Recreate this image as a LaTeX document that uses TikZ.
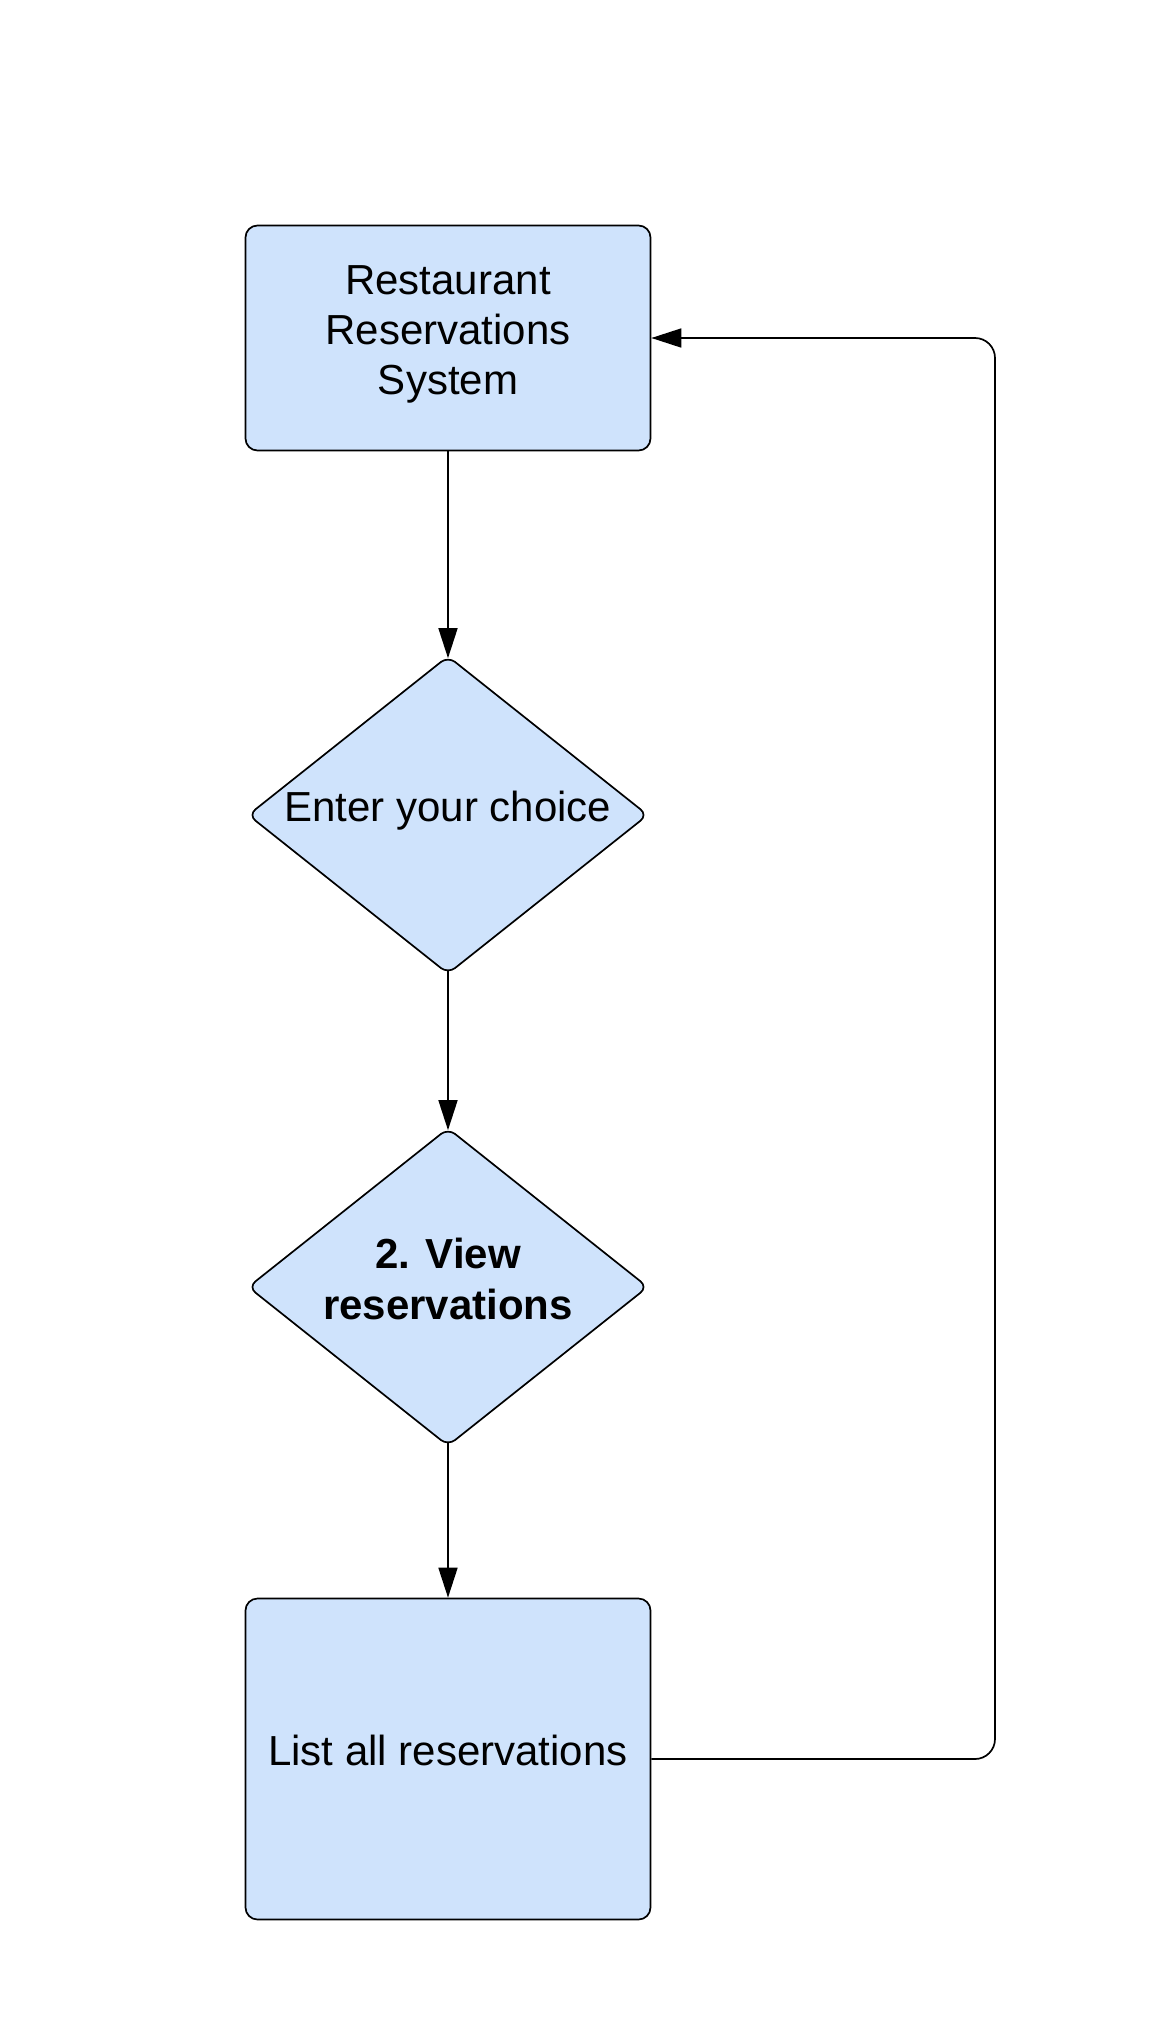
\documentclass[tikz,border=0pt]{standalone}
\usepackage{fontspec}
\setmainfont{Liberation Sans}
\usetikzlibrary{arrows.meta,shapes.geometric}
\definecolor{boxfill}{RGB}{207,227,252}
\tikzset{
  procbox/.style={draw=black, line width=1.7pt, fill=boxfill, rounded corners=12pt, minimum width=405pt, inner sep=0pt},
  decbox/.style={draw=black, line width=1.7pt, fill=boxfill, diamond, rounded corners=9pt, minimum width=400pt, minimum height=318pt, inner sep=0pt},
  lbl/.style={font=\fontsize{42}{50}\selectfont, align=center, inner sep=0pt},
  conn/.style={draw=black, line width=1.7pt, -{Triangle[length=30pt,width=19pt]}},
}
\begin{document}
\begin{tikzpicture}[x=1pt,y=-1pt]
\useasboundingbox (0,0) rectangle (1149,2042);
\node[procbox, minimum height=225pt] (top) at (448,338) {};
\node[lbl] (toplbl) at (448,334.5) {Restaurant\\Reservations\\System};
\node[decbox] (d1) at (448,815) {};
\node[lbl, anchor=base] (d1lbl) at (448,821.7) {Enter your choice};
\node[decbox] (d2) at (448,1287) {};
\node[lbl, font=\fontsize{42}{51}\selectfont\bfseries] (d2lbl) at (448,1278.5) {2. View\\reservations};
\node[procbox, minimum height=321pt] (bot) at (448,1759) {};
\node[lbl, anchor=base] (botlbl) at (448,1765) {List all reservations};
\coordinate (rx) at (995,0);
\draw[conn, shorten >=-3pt] (top.south) -- (d1.north);
\draw[conn, shorten >=-3pt, shorten <=-4pt] (d1.south) -- (d2.north);
\draw[conn, shorten <=-4pt] (d2.south) -- (bot.north);
\draw[conn, rounded corners=20pt] (bot.east) -- (bot.east -| rx) -- (top.east -| rx) -- (top.east);
\end{tikzpicture}
\end{document}
